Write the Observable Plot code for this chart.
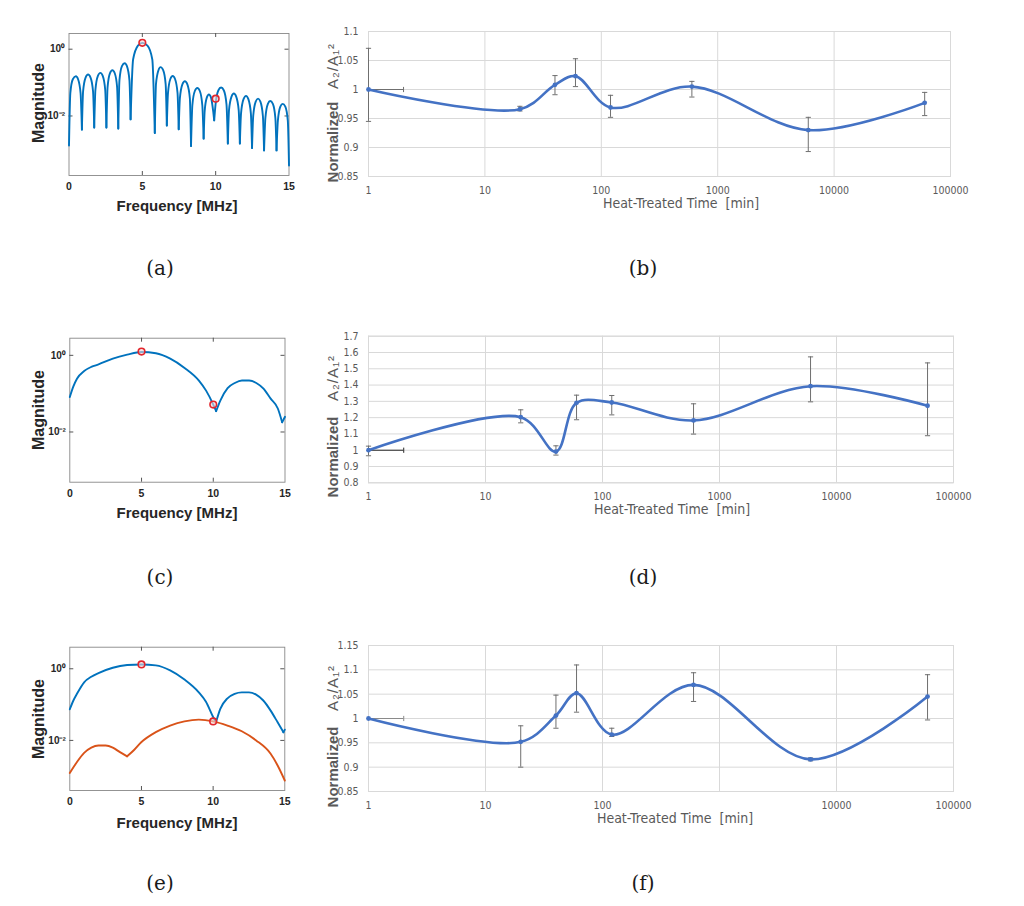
<!DOCTYPE html>
<html><head><meta charset="utf-8">
<script src="https://cdn.jsdelivr.net/npm/d3@7"></script>
<script src="https://cdn.jsdelivr.net/npm/@observablehq/plot@0.6"></script>
<style>
html,body{margin:0;padding:0;background:#fff;}
body{width:1024px;height:906px;position:relative;overflow:hidden;}
.lbl{position:absolute;white-space:nowrap;transform:translate(-50%,-50%);line-height:1;}
.rot{transform:translate(-50%,-50%) rotate(-90deg);}
</style></head>
<body>
<script>
// ================= DATA =================
// Panel (a): spectrum, one array of [frequency MHz, magnitude] per lobe
const aLobes = [
 [[0,1.3e-3],[0.09,0.048],[0.26,0.126],[0.47,0.155],[0.62,0.126],[0.79,0.048],[0.88,3.9e-3]],
 [[0.88,3.9e-3],[0.96,0.054],[1.13,0.141],[1.30,0.174],[1.47,0.141],[1.64,0.054],[1.72,4.5e-3]],
 [[1.72,4.5e-3],[1.80,0.060],[1.97,0.158],[2.14,0.195],[2.30,0.158],[2.47,0.060],[2.55,4.5e-3]],
 [[2.55,4.5e-3],[2.63,0.073],[2.79,0.19],[2.96,0.234],[3.12,0.19],[3.28,0.073],[3.36,4.2e-3]],
 [[3.36,4.2e-3],[3.44,0.118],[3.61,0.31],[3.80,0.38],[3.95,0.31],[4.12,0.118],[4.2,7.9e-3]],
 [[4.2,7.9e-3],[4.37,0.49],[4.70,1.28],[5.0,1.55],[5.35,1.28],[5.68,0.49],[5.85,3.1e-3]],
 [[5.85,3.1e-3],[5.93,0.09],[6.10,0.235],[6.24,0.29],[6.42,0.235],[6.59,0.09],[6.67,5.2e-3]],
 [[6.67,5.2e-3],[6.75,0.049],[6.91,0.128],[7.07,0.158],[7.23,0.128],[7.40,0.049],[7.48,4.0e-3]],
 [[7.48,4.0e-3],[7.56,0.034],[7.73,0.089],[7.90,0.11],[8.07,0.089],[8.24,0.034],[8.32,1.26e-3]],
 [[8.32,1.26e-3],[8.41,0.021],[8.58,0.056],[8.75,0.069],[8.92,0.056],[9.09,0.021],[9.18,2.1e-3]],
 [[9.18,2.1e-3],[9.25,0.014],[9.40,0.036],[9.54,0.044],[9.68,0.036],[9.83,0.014],[9.9,7.4e-3]],
 [[9.9,7.4e-3],[9.99,0.022],[10.18,0.058],[10.37,0.071],[10.56,0.058],[10.74,0.022],[10.83,1.5e-3]],
 [[10.83,1.5e-3],[10.91,0.015],[11.08,0.038],[11.24,0.047],[11.40,0.038],[11.57,0.015],[11.65,1.5e-3]],
 [[11.65,1.5e-3],[11.73,0.012],[11.90,0.032],[12.07,0.04],[12.23,0.032],[12.40,0.012],[12.48,1.1e-3]],
 [[12.48,1.1e-3],[12.56,0.010],[12.73,0.027],[12.89,0.033],[13.05,0.027],[13.22,0.010],[13.3,9.3e-4]],
 [[13.3,9.3e-4],[13.39,0.0087],[13.56,0.023],[13.72,0.028],[13.90,0.023],[14.07,0.0087],[14.15,9.3e-4]],
 [[14.15,9.3e-4],[14.24,0.0071],[14.41,0.019],[14.57,0.023],[14.75,0.019],[14.92,0.0071],[15,3.3e-4]]
];
const aMarks = [[5, 1.55], [10, 0.033]];

// Panel (c): spectrum, arches split at the nulls
const cBlue = [
 [[0,0.082],[0.25,0.155],[0.5,0.246],[1,0.39],[1.5,0.5],[2,0.58],[3,0.82],[4,1.04],[5,1.22],[6,1.13],[7,0.82],[8,0.47],[9,0.22],[9.5,0.12],[10,0.052],[10.2,0.035]],
 [[10.2,0.035],[10.5,0.067],[11,0.14],[11.5,0.19],[12,0.22],[12.5,0.22],[13,0.19],[13.5,0.135],[14,0.074],[14.5,0.041],[14.8,0.018]],
 [[14.8,0.018],[15,0.025]]
];
const cMarks = [[5, 1.25], [10, 0.052]];

// Panel (e): fundamental (blue) and second harmonic (orange)
const eBlue = [
 [[0,0.074],[0.25,0.13],[0.5,0.2],[1,0.42],[1.5,0.6],[2,0.76],[3,1.07],[4,1.27],[5,1.32],[6,1.24],[7,0.9],[8,0.5],[9,0.22],[9.5,0.12],[10,0.045],[10.2,0.032]],
 [[10.2,0.032],[10.5,0.076],[11,0.15],[11.5,0.2],[12,0.22],[12.5,0.22],[13,0.19],[13.5,0.13],[14,0.069],[14.5,0.032],[14.9,0.017]],
 [[14.9,0.017],[15,0.02]]
];
const eOrange = [
 [[0,0.00123],[0.5,0.0025],[1,0.0045],[1.5,0.0063],[2,0.0072],[2.5,0.0072],[3,0.0063],[3.5,0.0047],[4,0.0036]],
 [[4,0.0036],[4.5,0.0055],[5,0.009],[6,0.017],[7,0.026],[8,0.034],[9,0.038],[10,0.034],[11,0.026],[12,0.018],[13,0.010],[14,0.0043],[14.5,0.002],[15,0.00076]]
];
const eMarks = [[5, 1.32], [10, 0.034]];

const freqTicks = [0, 5, 10, 15];
const magTicks = [1, 0.01];
const magTickLabels = ["10\u2070", "10\u207B\u00B2"];

// Panels (b), (d), (f): heat-treated time [min]
const times = [1, 20, 40, 60, 120, 600, 6000, 60000];
const timeTicks = [1, 10, 100, 1000, 10000, 100000];

const bVal = [1.000, 0.966, 1.008, 1.023, 0.969, 1.005, 0.930, 0.977];
const bLo  = [0.945, 0.963, 0.991, 1.005, 0.952, 0.987, 0.893, 0.955];
const bHi  = [1.071, 0.971, 1.024, 1.053, 0.990, 1.014, 0.952, 0.995];
const bTicks = [0.85, 0.9, 0.95, 1, 1.05, 1.1];

const dVal = [1.000, 1.203, 0.992, 1.291, 1.293, 1.183, 1.393, 1.273];
const dLo  = [0.966, 1.168, 0.970, 1.187, 1.217, 1.099, 1.297, 1.089];
const dHi  = [1.025, 1.248, 1.027, 1.338, 1.336, 1.285, 1.573, 1.536];
const dTicks = [0.8, 0.9, 1, 1.1, 1.2, 1.3, 1.4, 1.5, 1.6, 1.7];

const fVal = [1.000, 0.952, 1.006, 1.052, 0.967, 1.069, 0.916, 1.045];
const fLo  = [1.000, 0.900, 0.980, 1.013, 0.963, 1.035, 0.913, 0.997];
const fHi  = [1.000, 0.985, 1.048, 1.110, 0.980, 1.094, 0.919, 1.090];
const fTicks = [0.85, 0.9, 0.95, 1, 1.05, 1.1, 1.15];
// in (f) the "1000" tick label is hidden behind the axis title
const fTimeLabels = [1, 10, 100, 10000, 100000];

// horizontal error bar on the first point: [from, to]
const hErr = [1, 2];

// ================= HELPERS =================
const NARROW = "'Liberation Sans Narrow','DejaVu Sans Condensed','Arial Narrow',sans-serif";
const SANS = "'Liberation Sans',Arial,sans-serif";

function place(node, left, top) {
  node.style.position = "absolute";
  node.style.left = left + "px";
  node.style.top = top + "px";
  document.body.append(node);
}
function label(text, x, y, css, rotate) {
  const d = document.createElement("div");
  d.className = "lbl" + (rotate ? " rot" : "");
  d.innerHTML = text;
  d.style.left = x + "px";
  d.style.top = y + "px";
  Object.assign(d.style, css);
  document.body.append(d);
}
const hcap = {draw(ctx, size) { const r = Math.sqrt(size / Math.PI); ctx.moveTo(-r, 0); ctx.lineTo(r, 0); }};
const vcap = {draw(ctx, size) { const r = Math.sqrt(size / Math.PI); ctx.moveTo(0, -r); ctx.lineTo(0, r); }};

function flat(segs) {
  const out = [];
  segs.forEach((s, k) => s.forEach(([f, m]) => out.push({f, m, seg: k})));
  return out;
}

function matlabPanel({top, height, l, r, t, b, yDomain, series, marks}) {
  const W = 310;
  const fh = b - t, fw = r - l;
  const tickStroke = "#555";
  const m = [];
  m.push(Plot.frame({stroke: "#888", strokeWidth: 0.9}));
  m.push(Plot.tickX([5, 10], {x: d => d, stroke: tickStroke, insetTop: fh - 4}));
  m.push(Plot.tickX([5, 10], {x: d => d, stroke: tickStroke, insetBottom: fh - 4}));
  m.push(Plot.tickY(magTicks, {y: d => d, stroke: tickStroke, insetRight: fw - 4}));
  m.push(Plot.tickY(magTicks, {y: d => d, stroke: tickStroke, insetLeft: fw - 4}));
  m.push(Plot.axisX({ticks: freqTicks, tickSize: 0, tickPadding: 7, fontSize: 10.5, fontWeight: 600, fill: "#262626", label: null}));
  m.push(Plot.axisY({ticks: magTicks, tickFormat: d => magTickLabels[magTicks.indexOf(d)], tickSize: 0, tickPadding: 4, fontSize: 10, fontWeight: 600, fill: "#262626", label: null}));
  for (const s of series) {
    m.push(Plot.line(flat(s.segs), {x: "f", y: "m", z: "seg", stroke: s.color, strokeWidth: 1.9, curve: "monotone-x"}));
  }
  m.push(Plot.dot(marks, {x: d => d[0], y: d => d[1], r: 3.3, stroke: "#e3262d", strokeWidth: 1.6, fill: "#f4d6d6", fillOpacity: 0.6}));
  const p = Plot.plot({
    width: W, height,
    marginLeft: l, marginRight: W - r, marginTop: t - top, marginBottom: top + height - b,
    style: {background: "transparent", fontFamily: SANS, overflow: "visible"},
    x: {domain: [0, 15]},
    y: {type: "log", domain: yDomain},
    marks: m
  });
  place(p, 0, top);
}

function excelPanel({top, height, t, b, r, yDomain, yTicks, val, lo, hi, hColor, showV1, xLabels}) {
  const left = 310, W = 1024 - left, l = 368;
  const data = times.map((x, i) => ({x, v: val[i], lo: lo[i], hi: hi[i]}));
  const ebars = showV1 ? data : data.slice(1);
  const gray = "#6f6f6f";
  const p = Plot.plot({
    width: W, height,
    marginLeft: l - left, marginRight: 1024 - r, marginTop: t - top, marginBottom: top + height - b,
    style: {background: "transparent", fontFamily: NARROW, color: "#595959", overflow: "visible"},
    x: {type: "log", domain: [1, 100000]},
    y: {domain: yDomain},
    marks: [
      Plot.gridY(yTicks, {stroke: "#d9d9d9", strokeOpacity: 1}),
      Plot.gridX(timeTicks, {stroke: "#d9d9d9", strokeOpacity: 1}),
      Plot.frame({stroke: "#d9d9d9"}),
      Plot.axisX({ticks: xLabels || timeTicks, tickFormat: d => String(d), tickSize: 0, tickPadding: 10, fontSize: 10.5, fill: "#595959", label: null}),
      Plot.axisY({ticks: yTicks, tickFormat: d => String(d), tickSize: 0, tickPadding: 10, fontSize: 10.5, fill: "#595959", label: null}),
      Plot.ruleX(ebars, {x: "x", y1: "lo", y2: "hi", stroke: gray, strokeWidth: 1}),
      Plot.dot(ebars, {x: "x", y: "lo", symbol: hcap, r: 2.6, stroke: gray, strokeWidth: 1}),
      Plot.dot(ebars, {x: "x", y: "hi", symbol: hcap, r: 2.6, stroke: gray, strokeWidth: 1}),
      Plot.ruleY([data[0]], {x1: hErr[0], x2: hErr[1], y: "v", stroke: hColor, strokeWidth: 1}),
      Plot.dot([data[0]], {x: () => hErr[1], y: "v", symbol: vcap, r: 2.6, stroke: hColor, strokeWidth: 1}),
      Plot.line(data, {x: "x", y: "v", curve: "catmull-rom", stroke: "#4472C4", strokeWidth: 2.6}),
      Plot.dot(data, {x: "x", y: "v", r: 2.4, fill: "#4472C4"})
    ]
  });
  place(p, left, top);
}

// ================= PANELS =================
matlabPanel({top: 0, height: 200, l: 68.5, r: 288.5, t: 33, b: 175, yDomain: [1.65e-4, 2.95],
  series: [{segs: aLobes, color: "#0072BD"}], marks: aMarks});
matlabPanel({top: 300, height: 200, l: 69.3, r: 284.5, t: 337.7, b: 481.7, yDomain: [4.9e-4, 2.8],
  series: [{segs: cBlue, color: "#0072BD"}], marks: cMarks});
matlabPanel({top: 610, height: 200, l: 69.3, r: 284.3, t: 646.7, b: 790, yDomain: [4.0e-4, 4.0],
  series: [{segs: eBlue, color: "#0072BD"}, {segs: eOrange, color: "#D95319"}], marks: eMarks});

excelPanel({top: 15, height: 190, t: 31, b: 176, r: 950, yDomain: [0.85, 1.1], yTicks: bTicks,
  val: bVal, lo: bLo, hi: bHi, hColor: "#6f6f6f", showV1: true});
excelPanel({top: 320, height: 190, t: 335.7, b: 482.3, r: 953, yDomain: [0.8, 1.7], yTicks: dTicks,
  val: dVal, lo: dLo, hi: dHi, hColor: "#262626", showV1: true});
excelPanel({top: 625, height: 190, t: 645, b: 791, r: 953, yDomain: [0.85, 1.15], yTicks: fTicks,
  val: fVal, lo: fLo, hi: fHi, hColor: "#8a8a8a", showV1: false, xLabels: fTimeLabels});

// ================= TEXT =================
const fTitle = {fontFamily: SANS, fontWeight: "bold", fontSize: "15px", color: "#262626"};
const mTitle = {fontFamily: SANS, fontWeight: "bold", fontSize: "16px", color: "#262626"};
for (const [yx, ym] of [[205, 103], [512, 410], [822, 719]]) {
  label("Frequency [MHz]", 177, yx, fTitle);
  label("Magnitude", 39, ym, mTitle, true);
}
const eTitle = {fontFamily: NARROW, fontSize: "14px", color: "#595959"};
label("Heat-Treated Time&nbsp;&nbsp;[min]", 681, 203, eTitle);
label("Heat-Treated Time&nbsp;&nbsp;[min]", 672, 509, eTitle);
label("Heat-Treated Time&nbsp;&nbsp;[min]", 675, 818, eTitle);

const nStyle = {fontFamily: SANS, fontWeight: "bold", fontSize: "15px", color: "#595959"};
const aStyle = {fontFamily: SANS, fontSize: "15px", color: "#595959", letterSpacing: "1px"};
for (const [yn, ya] of [[142, 66], [457, 378], [767, 688]]) {
  label("Normalized", 332, yn, nStyle, true);
  label("A\u2082/A\u2081\u00B2", 332, ya, aStyle, true);
}

const cap = {fontFamily: "'DejaVu Serif','Liberation Serif',serif", fontSize: "20px", color: "#1a1a1a"};
label("(a)", 160, 268, cap); label("(b)", 643, 268, cap);
label("(c)", 160, 577, cap); label("(d)", 643, 577, cap);
label("(e)", 160, 883, cap); label("(f)", 643, 883, cap);
</script>
</body></html>
